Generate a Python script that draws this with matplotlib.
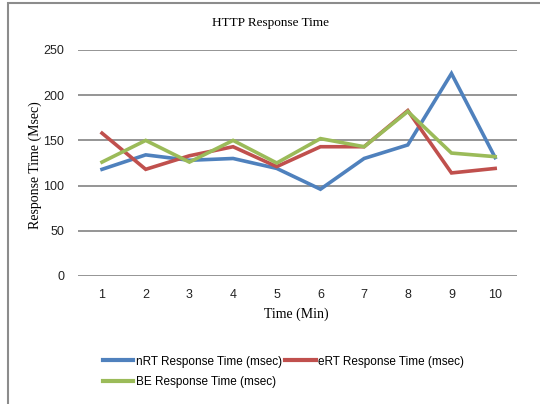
import matplotlib.pyplot as plt
from matplotlib.patches import Rectangle
from matplotlib.lines import Line2D

minutes = [1, 2, 3, 4, 5, 6, 7, 8, 9, 10]
nrt = [118, 134, 128, 130, 119, 96, 130, 145, 224, 131]
ert = [158, 118, 133, 143, 121, 143, 143, 183, 114, 119]
be = [126, 150, 126, 150, 125, 152, 143, 182, 136, 132]
yticks = [0, 50, 100, 150, 200, 250]

series = [
    ("nRT Response Time (msec)", nrt, "#4F81BD"),
    ("eRT Response Time (msec)", ert, "#C0504D"),
    ("BE Response Time (msec)", be, "#9BBB59"),
]

W, H = 540, 404
fig = plt.figure(figsize=(W / 100, H / 100), dpi=100)
ax = fig.add_axes([78 / W, 1 - 276 / H, (517 - 78) / W, (276 - 50) / H])

for y in yticks:
    ax.axhline(y, color="#8c8c8c", lw=1.3, zorder=1)

for name, vals, col in series:
    ax.plot(minutes, vals, color=col, lw=2.6, label=name, zorder=3,
            solid_joinstyle="miter")

ax.set_xlim(0.45, 10.5)
ax.set_ylim(0, 250)
ax.set_yticks(yticks)
ax.set_xticks(minutes)
for s in ax.spines.values():
    s.set_visible(False)
ax.tick_params(length=0, labelsize=9, colors="#222222")
ax.tick_params(axis="x", pad=9)
ax.tick_params(axis="y", pad=10)
for lab in ax.get_xticklabels() + ax.get_yticklabels():
    lab.set_family("Liberation Sans")

fig.text(270 / W, 1 - 23 / H, "HTTP Response Time", ha="center", va="center",
         family="Liberation Serif", fontsize=9.5)
fig.text(296 / W, 1 - 314 / H, "Time (Min)", ha="center", va="center",
         family="Liberation Serif", fontsize=10)
fig.text(35 / W, 1 - 165 / H, "Response Time (Msec)", ha="center", va="center",
         rotation=90, family="Liberation Serif", fontsize=10)

# chart border
fig.patches.append(Rectangle((8 / W, -0.1), 1.2, 1 - 3 / H + 0.1,
                             transform=fig.transFigure, fill=False,
                             edgecolor="#8c8c8c", lw=1.5))

# legend fills column-wise, so order items to get nRT, eRT on row 1
order = [0, 2, 1]
handles = [Line2D([], [], color=series[i][2], lw=3) for i in order]
labels = [series[i][0] for i in order]
leg = fig.legend(handles, labels, ncol=2,
                 loc="upper left", bbox_to_anchor=(92 / W, 1 - 345 / H),
                 frameon=False, handlelength=2.6, handletextpad=0.2,
                 columnspacing=0.3, labelspacing=0.7,
                 prop={"family": "Liberation Sans", "size": 8.5})

fig.savefig("out.png", dpi=100)
